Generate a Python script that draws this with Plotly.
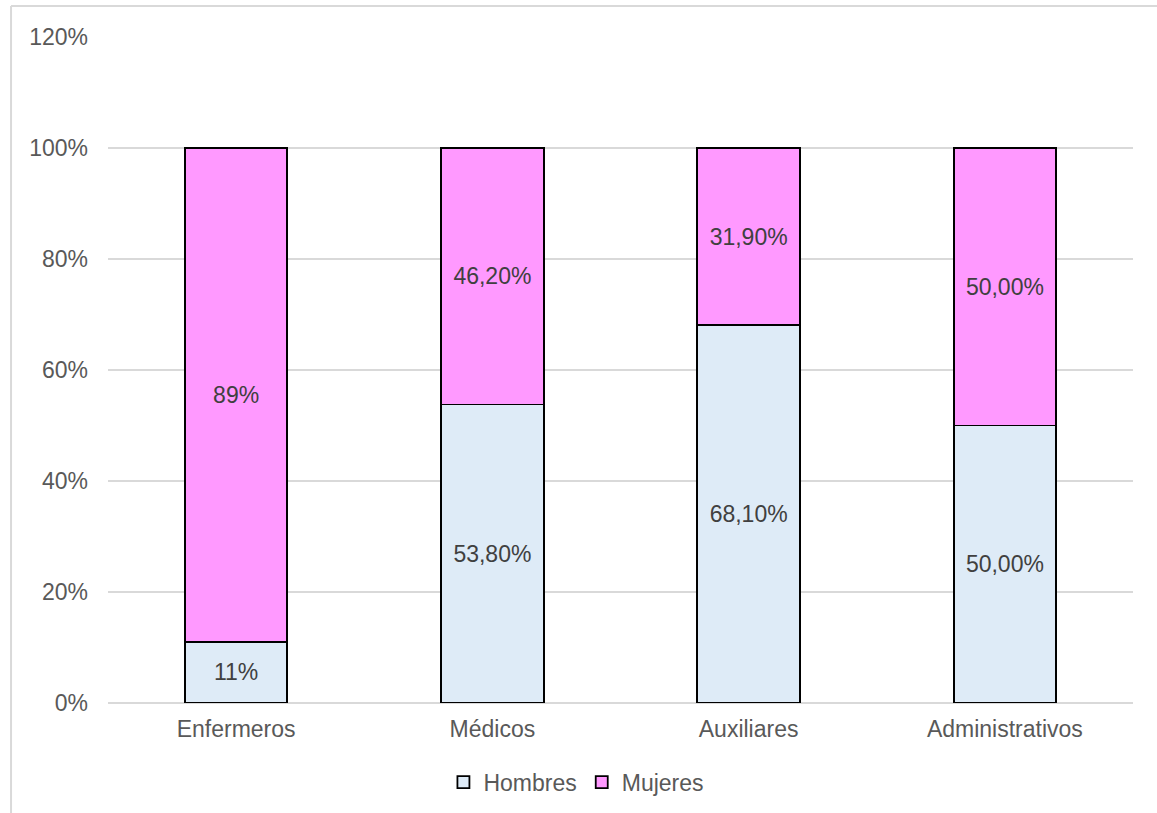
import plotly.graph_objects as go

# Share of staff by sex in each professional group (percent)
categorias = ["Enfermeros", "Médicos", "Auxiliares", "Administrativos"]
hombres = [11, 53.8, 68.1, 50.0]
mujeres = [89, 46.2, 31.9, 50.0]
decimales = [0, 2, 2, 2]  # decimals shown in each bar's labels
y_ticks = [0, 20, 40, 60, 80, 100, 120]
y_tick_text = [f"{t}%" for t in y_ticks]


def etiqueta(v, d):
    return f"{v:.{d}f}".replace(".", ",") + "%"


FONT = "Liberation Sans, Arial, sans-serif"
TICK_COLOR = "#595959"
LABEL_COLOR = "#404040"
GRID = "#d9d9d9"

fig = go.Figure()
for nombre, valores, color in [
    ("Hombres", hombres, "#deebf7"),
    ("Mujeres", mujeres, "#ff99ff"),
]:
    fig.add_trace(go.Bar(
        name=nombre,
        x=categorias,
        y=valores,
        text=[etiqueta(v, d) for v, d in zip(valores, decimales)],
        textposition="inside",
        insidetextanchor="middle",
        textangle=0,
        constraintext="none",
        textfont=dict(family=FONT, size=23, color=LABEL_COLOR),
        marker=dict(color=color, line=dict(color="#000000", width=1.8)),
        width=0.4,
        hoverinfo="skip",
    ))

fig.update_layout(
    barmode="stack",
    width=1157,
    height=813,
    margin=dict(l=108, r=24, t=37, b=110, autoexpand=False),
    paper_bgcolor="white",
    plot_bgcolor="white",
    font=dict(family=FONT, size=23, color=TICK_COLOR),
    showlegend=True,
    legend=dict(
        orientation="h",
        x=0.457,
        xanchor="center",
        yref="container",
        y=0.038,
        yanchor="middle",
        font=dict(family=FONT, size=23, color=TICK_COLOR),
        itemwidth=30,
        traceorder="normal",
    ),
    xaxis=dict(
        range=[-0.5, 3.5],
        showgrid=False,
        showline=False,
        ticks="outside",
        ticklen=5,
        tickcolor="rgba(0,0,0,0)",
        tickfont=dict(family=FONT, size=23, color=TICK_COLOR),
    ),
    yaxis=dict(
        range=[0, 120],
        tickvals=y_ticks,
        ticktext=y_tick_text,
        showgrid=True,
        gridcolor=GRID,
        gridwidth=1.5,
        zeroline=True,
        zerolinecolor=GRID,
        zerolinewidth=1.5,
        showline=False,
        ticks="",
        ticklabelstandoff=19,
        tickfont=dict(family=FONT, size=23, color=TICK_COLOR),
    ),
    shapes=[
        # outer chart border (left and top edges)
        dict(type="line", xref="paper", yref="paper",
             x0=-0.0946, x1=-0.0946, y0=1.0465, y1=-0.17,
             line=dict(color=GRID, width=2)),
        dict(type="line", xref="paper", yref="paper",
             x0=-0.0946, x1=1.03, y0=1.0465, y1=1.0465,
             line=dict(color=GRID, width=2)),
    ],
)

fig.write_html("out.html")
